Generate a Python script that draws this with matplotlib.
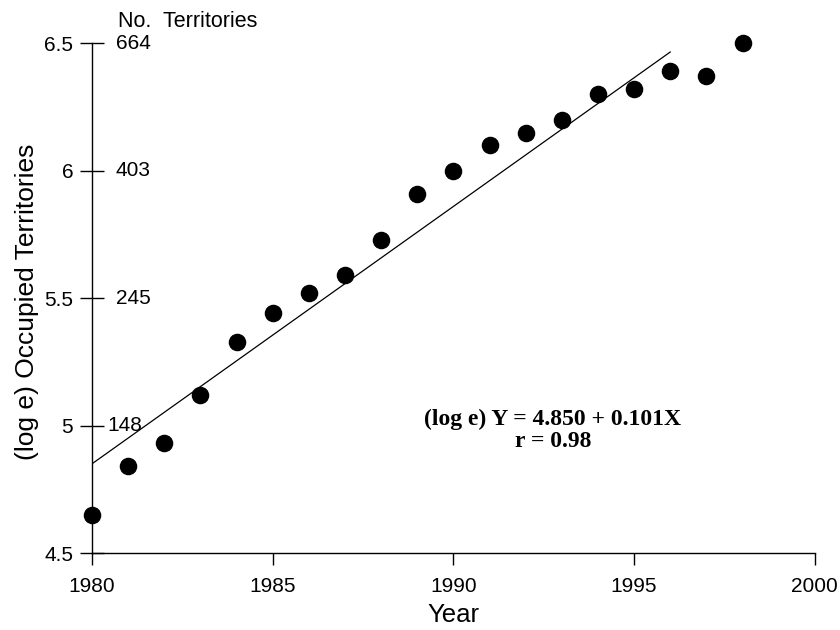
import matplotlib.pyplot as plt
import numpy as np

plt.rcParams['font.family'] = ['Liberation Sans', 'DejaVu Sans']

# data
years = [1980, 1981, 1982, 1983, 1984, 1985, 1986, 1987, 1988, 1989,
         1990, 1991, 1992, 1993, 1994, 1995, 1996, 1997, 1998]
log_territories = [4.65, 4.84, 4.93, 5.12, 5.33, 5.44, 5.52, 5.59, 5.73, 5.91,
                   6.00, 6.10, 6.15, 6.20, 6.30, 6.32, 6.39, 6.37, 6.50]
fit_intercept = 4.850
fit_slope = 0.101
fit_years = [1980, 1996]

y_ticks = [4.5, 5, 5.5, 6, 6.5]
y_tick_labels = ['4.5', '5', '5.5', '6', '6.5']
no_ticks = [5, 5.5, 6, 6.5]
no_labels = ['148', '245', '403', '664']
x_ticks = [1980, 1985, 1990, 1995, 2000]

fig = plt.figure(figsize=(8.4, 6.3), dpi=100)
ax = fig.add_axes([0.1095, 0.1222, 0.8605, 0.8090])

ax.scatter(years, log_territories, s=135, color='black', zorder=3, clip_on=False)

fx = np.array(fit_years)
ax.plot(fx, fit_intercept + fit_slope * (fx - 1980), color='black', lw=0.9)

ax.set_xlim(1980, 2000)
ax.set_ylim(4.5, 6.5)
ax.set_xticks(x_ticks)
ax.set_yticks(y_ticks)
ax.set_yticklabels(y_tick_labels)

for s in ['top', 'right']:
    ax.spines[s].set_visible(False)
for s in ['left', 'bottom']:
    ax.spines[s].set_linewidth(1.0)
    ax.spines[s].set_color('black')

ax.tick_params(axis='y', direction='inout', length=17, width=1.0,
               labelsize=15, pad=5)
ax.tick_params(axis='x', direction='out', length=8.5, width=1.0,
               labelsize=15, pad=9)

# second scale: number of territories, written inside the axis
for yv, lab in zip(no_ticks, no_labels):
    dx = 11 if yv == 5 else 17
    ax.annotate(lab, xy=(1980, yv), xytext=(dx, 0), textcoords='offset points',
                fontsize=15, ha='left', va='center')
ax.text(0.036, 1.043, 'No.  Territories', transform=ax.transAxes,
        fontsize=15.5, ha='left', va='center')

ax.set_xlabel('Year', fontsize=18.5, va='center')
ax.xaxis.set_label_coords(0.5, -0.122)
ax.set_ylabel('(log e) Occupied Territories', fontsize=19, va='center')
ax.yaxis.set_label_coords(-0.09, 0.4925)

ax.text(1992.75, 4.98, '(log e) Y = 4.850 + 0.101X\nr = 0.98',
        fontsize=17, fontweight='bold', family='Liberation Serif',
        ha='center', va='center', linespacing=1.05)

fig.savefig('out.png', dpi=100)
